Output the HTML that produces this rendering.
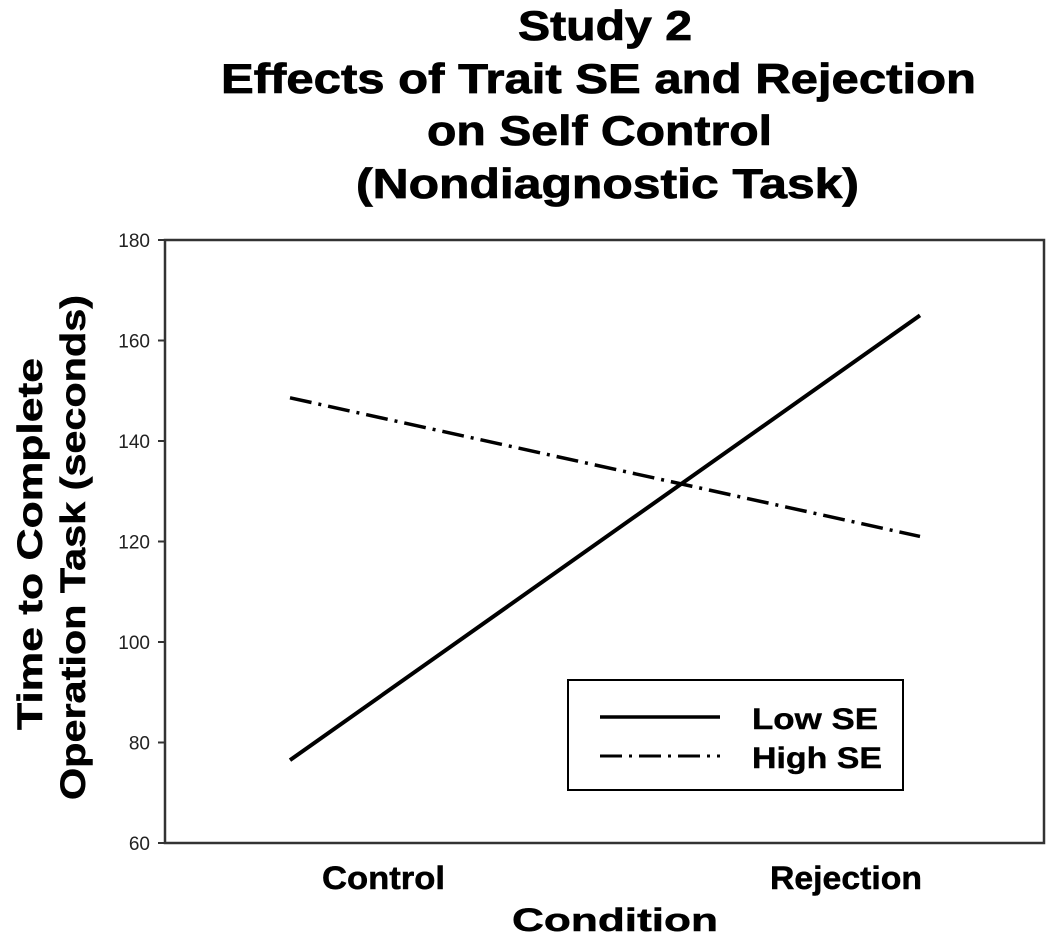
<!DOCTYPE html>
<html><head><meta charset="utf-8"><style>
body{margin:0;background:#fff;}
svg text{font-family:"Liberation Sans",Arial,sans-serif;}
</style></head><body>
<svg width="1050" height="935" xmlns="http://www.w3.org/2000/svg">
<g font-weight="bold" font-size="42" fill="#000" stroke="#000" stroke-width="0.8">
<text x="518" y="40" textLength="174" lengthAdjust="spacingAndGlyphs">Study 2</text>
<text x="221" y="93" textLength="755" lengthAdjust="spacingAndGlyphs">Effects of Trait SE and Rejection</text>
<text x="427" y="145" textLength="345" lengthAdjust="spacingAndGlyphs">on Self Control</text>
<text x="356" y="198" textLength="503" lengthAdjust="spacingAndGlyphs">(Nondiagnostic Task)</text>
</g>
<rect x="165" y="240" width="879" height="603" fill="none" stroke="#333" stroke-width="2.5"/>
<g id="yaxis"></g>
<g id="series"></g>
<g font-weight="bold" font-size="32" stroke="#000" stroke-width="0.5">
<text id="xl0" x="322" y="889" textLength="123" lengthAdjust="spacingAndGlyphs"></text>
<text id="xl1" x="770" y="889" textLength="152" lengthAdjust="spacingAndGlyphs"></text>
<text x="512" y="931" textLength="206" lengthAdjust="spacingAndGlyphs">Condition</text>
</g>
<g font-weight="bold" font-size="35" stroke="#000" stroke-width="0.5">
<text transform="translate(42,730) rotate(-90)" textLength="372" lengthAdjust="spacingAndGlyphs">Time to Complete</text>
<text transform="translate(85,800) rotate(-90)" textLength="505" lengthAdjust="spacingAndGlyphs">Operation Task (seconds)</text>
</g>
<g>
<rect x="568" y="680" width="335" height="110" fill="#fff" stroke="#000" stroke-width="2"/>
<line x1="600" y1="717" x2="720" y2="717" stroke="#000" stroke-width="3.5"/>
<text x="752" y="729" font-size="30" font-weight="bold" stroke="#000" stroke-width="0.4" textLength="126" lengthAdjust="spacingAndGlyphs">Low SE</text>
<line x1="600" y1="756" x2="720" y2="756" stroke="#000" stroke-width="3" stroke-dasharray="22,7,3,7"/>
<text x="752" y="768" font-size="30" font-weight="bold" stroke="#000" stroke-width="0.4" textLength="130" lengthAdjust="spacingAndGlyphs">High SE</text>
</g>
</svg>
<script>
const categories=["Control","Rejection"];
const lowSE=[76.5,165];
const highSE=[148.6,121];
const yTicks=[60,80,100,120,140,160,180];
const NS="http://www.w3.org/2000/svg";
function y(v){return 843-(v-60)*603/120;}
function x(i){return 290+i*630;}
document.getElementById('xl0').textContent=categories[0];
document.getElementById('xl1').textContent=categories[1];
const ya=document.getElementById('yaxis');
yTicks.forEach(t=>{
 const l=document.createElementNS(NS,'line');
 
 
 l.setAttribute('x1',158);l.setAttribute('x2',165);l.setAttribute('y1',y(t));l.setAttribute('y2',y(t));
 l.setAttribute('stroke','#333');l.setAttribute('stroke-width','2');ya.appendChild(l);
 const tx=document.createElementNS(NS,'text');
 
 
 tx.setAttribute('x',150);tx.setAttribute('y',y(t)+7);tx.setAttribute('text-anchor','end');
 tx.setAttribute('font-size','19');tx.setAttribute('fill','#222');tx.textContent=t;ya.appendChild(tx);
});
const sg=document.getElementById('series');
function line(vals,dash,w,name){
 const p=document.createElementNS(NS,'polyline');
 
 
 p.setAttribute('points',vals.map((v,i)=>x(i)+','+y(v)).join(' '));
 p.setAttribute('fill','none');p.setAttribute('stroke','#000');p.setAttribute('stroke-width',w);
 if(dash)p.setAttribute('stroke-dasharray',dash);
 sg.appendChild(p);
}
line(lowSE,null,4,'low-se-line');
line(highSE,'22,7,3,7',3.5,'high-se-line');
</script>
</body></html>
